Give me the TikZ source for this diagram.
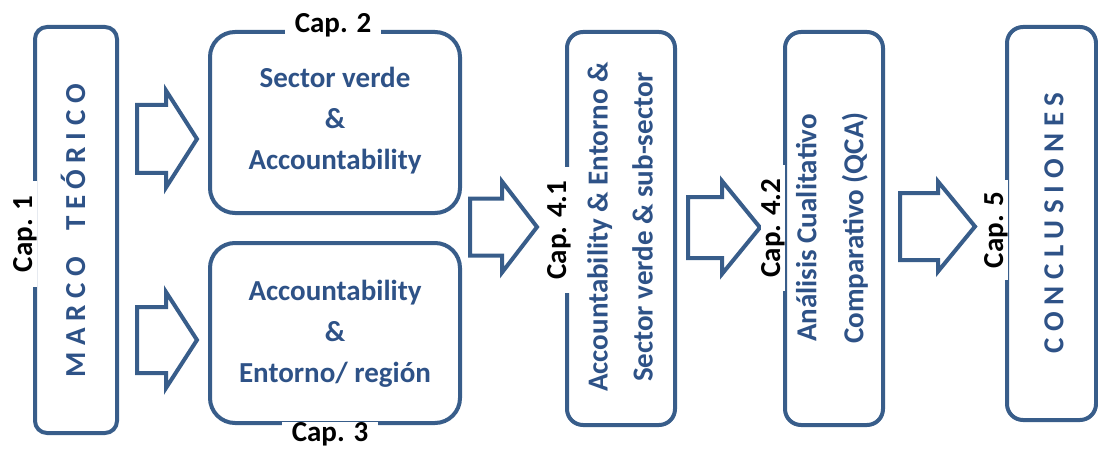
\documentclass[tikz,border=0pt]{standalone}
\usepackage{fontspec}
\setmainfont{Carlito}
\definecolor{bord}{HTML}{385D8A}
\definecolor{txt}{HTML}{2E5287}
\tikzset{
  x=1pt,y=1pt,
  box/.style={draw=bord, line width=4pt, fill=white, rounded corners=#1},
  box/.default=14pt,
  btxt/.style={text=txt, font=\fontsize{29}{41}\selectfont\bfseries, align=center, inner sep=0pt},
  caplbl/.style={text=black, fill=white, font=\fontsize{29}{34}\selectfont\bfseries, inner xsep=10pt, inner ysep=0pt},
  barrow/.style={draw=bord, line width=4pt, fill=white, line join=miter},
}
\newcommand\blockarrow[6]{%
  \draw[barrow] (#1,#2-#3) -- (#4,#2-#3) -- (#4,#2-#5) -- (#6,#2) -- (#4,#2+#5) -- (#4,#2+#3) -- (#1,#2+#3) -- cycle;}
\begin{document}
\begin{tikzpicture}
\useasboundingbox (0,0) rectangle (1098,448);
% Box 1
\node[box=12pt, minimum width=82pt, minimum height=406pt] (b1) at (76,218) {};
\node[btxt, rotate=90, font=\fontsize{29}{41}\selectfont\bfseries\addfontfeature{LetterSpace=23}] (t1) at (73,217) {MARCO\ \ TEÓRICO};
\node[caplbl, rotate=90, inner xsep=15pt] (c1) at (25,214) {Cap. 1};
% arrows to boxes 2,3
\blockarrow{137}{309}{34}{166}{48.5}{197}
\blockarrow{137}{108}{33}{166}{48}{197}
% Box 2
\node[box=25pt, minimum width=250pt, minimum height=181pt] (b2) at (335,325.5) {};
\node[btxt] (t2) at (335,327) {Sector verde\\ \&\\ Accountability};
\node[caplbl] (c2) at (333,423) {Cap. 2};
% Box 3
\node[box=25pt, minimum width=250pt, minimum height=180pt] (b3) at (335,115) {};
\node[btxt] (t3) at (335,114) {Accountability\\ \&\\ Entorno/ región};
\node[caplbl] (c3) at (330,14) {Cap. 3};
% arrow to 4.1
\blockarrow{470}{221}{28.5}{502}{45.5}{537}
% Box 4.1
\node[box=16pt, minimum width=108pt, minimum height=393pt] (b4) at (621,219.5) {};
\node[btxt, rotate=90, font=\fontsize{29}{45}\selectfont\bfseries] (t4) at (620,221) {Accountability \& Entorno \&\\ Sector verde \& sub-sector};
\node[caplbl, rotate=90, inner xsep=14pt] (c4) at (559,218) {Cap. 4.1};
% arrow to 4.2
\blockarrow{688}{220.5}{30.5}{722}{46.5}{760}
% Box 4.2
\node[box=16pt, minimum width=98pt, minimum height=393pt] (b5) at (834,219.5) {};
\node[btxt, rotate=90, font=\fontsize{29}{47}\selectfont\bfseries] (t5) at (832,220) {Análisis Cualitativo\\ Comparativo (QCA)};
\node[caplbl, rotate=90, inner xsep=14pt] (c5) at (773,220) {Cap. 4.2};
% arrow to 5
\blockarrow{900}{221.5}{33.5}{938}{45}{975}
% Box 5
\node[box=16pt, minimum width=89pt, minimum height=393pt] (b6) at (1051.5,224.5) {};
\node[btxt, rotate=90, font=\fontsize{29}{41}\selectfont\bfseries\addfontfeature{LetterSpace=23}] (t6) at (1054,225) {CONCLUSIONES};
\node[caplbl, rotate=90, inner xsep=12pt] (c6) at (996,218) {Cap. 5};
\end{tikzpicture}
\end{document}
